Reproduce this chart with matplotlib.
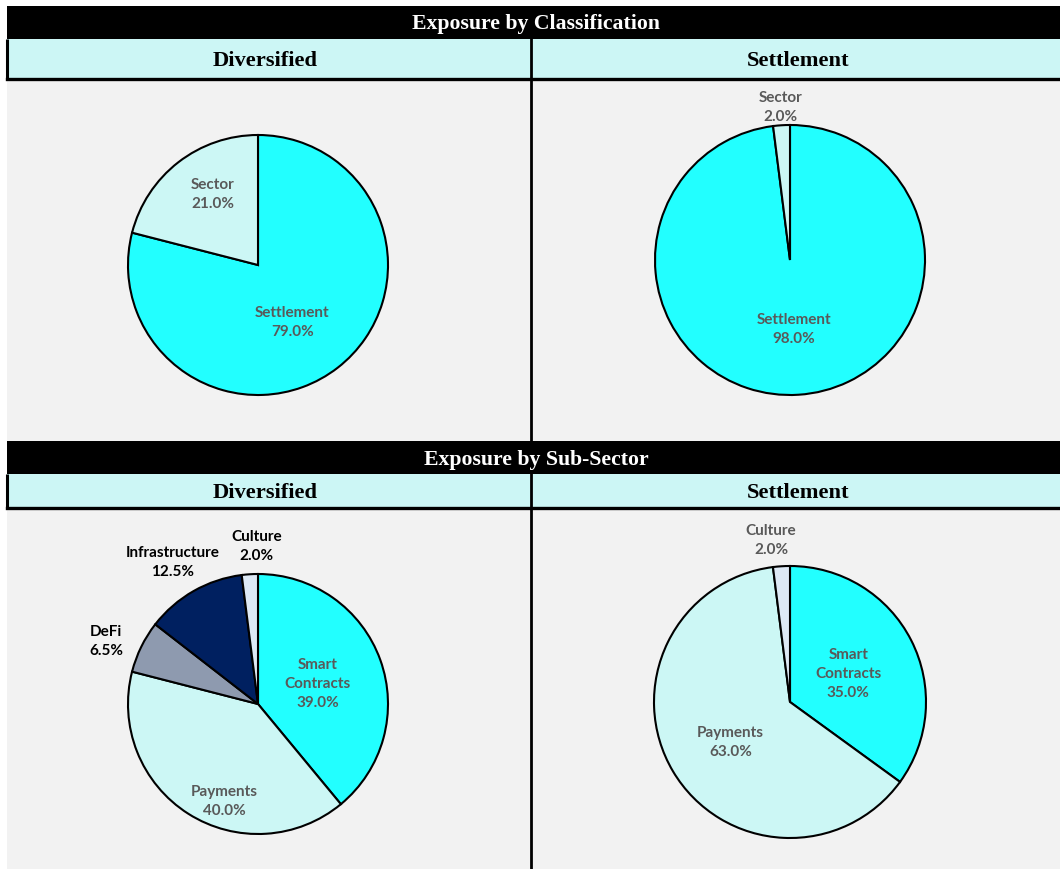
import matplotlib
matplotlib.use("Agg")
import matplotlib.pyplot as plt
from matplotlib.patches import Rectangle
import numpy as np

W, H = 1060, 869

# data
section_titles = ["Exposure by Classification", "Exposure by Sub-Sector"]
fund_names = ["Diversified", "Settlement"]

class_div_labels = ["Settlement", "Sector"]
class_div_values = [79.0, 21.0]
class_set_labels = ["Settlement", "Sector"]
class_set_values = [98.0, 2.0]

sub_div_labels = ["Smart\nContracts", "Payments", "DeFi", "Infrastructure", "Culture"]
sub_div_values = [39.0, 40.0, 6.5, 12.5, 2.0]
sub_set_labels = ["Smart\nContracts", "Payments", "Culture"]
sub_set_values = [35.0, 63.0, 2.0]

# colours per category
cat_colors = {
    "Settlement": "#22ffff",
    "Sector": "#ccf7f5",
    "Smart\nContracts": "#22ffff",
    "Payments": "#ccf7f5",
    "DeFi": "#8e9aaf",
    "Infrastructure": "#002060",
    "Culture": "#dde9f5",
}

CYAN_HDR = "#ccf6f5"
PANEL = "#f2f2f2"
LBL = "#595959"

fig = plt.figure(figsize=(W / 100, H / 100), dpi=100)
fig.patch.set_facecolor("white")
ax = fig.add_axes([0, 0, 1, 1])
ax.set_xlim(0, W)
ax.set_ylim(0, H)
ax.set_aspect("equal")
ax.axis("off")


def py(y):
    # pixel row (from top) -> data y
    return H - y


def rect(x0, y0, x1, y1, color, z=0):
    ax.add_patch(Rectangle((x0, py(y1)), x1 - x0, y1 - y0, facecolor=color,
                           edgecolor="none", zorder=z))


hfont = dict(family="Liberation Serif", weight="bold")
lfont = dict(family=["Lato", "DejaVu Sans"], weight="bold")

# section bands: (black top, black bottom/cyan top, cyan bottom, panel bottom)
bands = [(6, 39, 78, 441), (441, 474, 507, 869)]
for (b0, b1, c1, p1), title in zip(bands, section_titles):
    rect(7, b0, W, b1, "black", 1)
    rect(7, b1, W, c1, CYAN_HDR, 1)
    rect(7, c1 + 2, W, p1, PANEL, 0)
    # header borders
    ax.plot([7, 7], [py(b1), py(c1 + 2)], color="black", lw=2.2, zorder=3,
            solid_capstyle="butt")
    ax.plot([7, W], [py(c1 + 1), py(c1 + 1)], color="black", lw=2.4, zorder=3)
    # divider
    ax.plot([531, 531], [py(b1), py(p1)], color="black", lw=2.0, zorder=3)
    ax.text(W / 2 + 6, py((b0 + b1) / 2 + 2), title, color="white", fontsize=15.7,
            ha="center", va="center", zorder=4, **hfont)
    for cx, name in zip([265, 798], fund_names):
        ax.text(cx, py((b1 + c1) / 2 + 2), name, color="black", fontsize=16.2,
                ha="center", va="center", zorder=4, **hfont)

# pies: center px, radius, labels, values, label radius, angle shift, label color
pies = [
    ((258, 265), 130, class_div_labels, class_div_values, [0.5, 0.66], [-6, -6], [LBL, LBL]),
    ((790, 260), 135, class_set_labels, class_set_values, [0.5, 1.15], [0, 0], [LBL, LBL]),
    ((258, 704), 130, sub_div_labels, sub_div_values,
     [0.49, 0.78, 1.27, 1.28, 1.23], [0, 13, 3, 1, -3], [LBL, LBL, "black", "black", "black"]),
    ((790, 702), 136, sub_set_labels, sub_set_values, [0.48, 0.52, 1.21], [0, 2, 3], [LBL, LBL, LBL]),
]

for (cx, cy), r, labels, vals, lr, dang, lcol in pies:
    wedges, _ = ax.pie(vals, colors=[cat_colors[l] for l in labels], startangle=90,
                       counterclock=False, center=(cx, py(cy)), radius=r,
                       wedgeprops=dict(edgecolor="black", linewidth=1.5),
                       frame=True)
    for w, lab, v, rr, da, c in zip(wedges, labels, vals, lr, dang, lcol):
        mid = np.deg2rad((w.theta1 + w.theta2) / 2 + da)
        tx = cx + rr * r * np.cos(mid)
        ty = py(cy) + rr * r * np.sin(mid) - 2
        ax.text(tx, ty, f"{lab}\n{v:.1f}%", ha="center", va="center", color=c,
                fontsize=11, linespacing=1.45, zorder=5, **lfont)

ax.set_xlim(0, W)
ax.set_ylim(0, H)
ax.axis("off")

fig.savefig("out.png", dpi=100, facecolor="white")
